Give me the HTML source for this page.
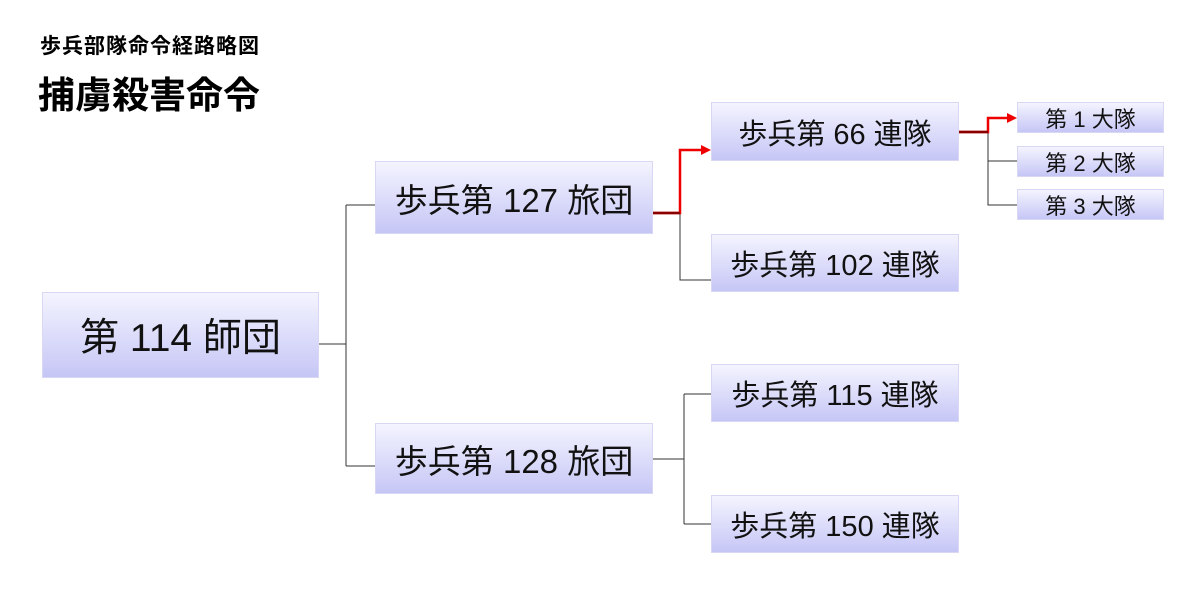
<!DOCTYPE html>
<html><head><meta charset="utf-8"><style>
body{margin:0;width:1200px;height:600px;background:#fff;position:relative;overflow:hidden;font-family:"Liberation Sans","Noto Sans CJK JP",sans-serif;}
.b{position:absolute;box-sizing:border-box;border:1px solid #d8d8f4;background:linear-gradient(#f4f4ff,#c6c6f6);display:flex;align-items:center;justify-content:center;color:#111;white-space:nowrap;}
.t{position:absolute;font-weight:bold;color:#000;white-space:nowrap;}
svg{position:absolute;left:0;top:0;}
</style></head><body>
<div class="t" style="left:40px;top:35px;font-size:21px;letter-spacing:1px;line-height:24px;">歩兵部隊命令経路略図</div>
<div class="t" style="left:38px;top:74px;font-size:37px;line-height:44px;">捕虜殺害命令</div>
<svg width="1200" height="600">
<g fill="none" stroke="#333" stroke-width="1">
<path d="M318 344H346M346 205V466M346 205H375M346 466H375"/>
<path d="M680 213V280H711"/>
<path d="M652 459H684M684 394V524M684 394H711M684 524H711"/>
<path d="M988 132V205H1017M988 161H1017"/>
</g>
<g fill="none" stroke="#e00" stroke-width="2.5">
<path d="M652 213H680V150H703"/>
<path d="M958 132H988V118H1009"/>
</g>
<path d="M652 213H680M958 132H988" stroke="#800" stroke-width="2.5"/>
<polygon points="711,150 701,145 701,155" fill="#e00"/>
<polygon points="1017,118 1007,113 1007,123" fill="#e00"/>
</svg>
<div class="b" style="left:42px;top:292px;width:277px;height:86px;font-size:39px;">第 114 師団</div>
<div class="b" style="left:375px;top:161px;width:278px;height:73px;font-size:33px;">歩兵第 127 旅団</div>
<div class="b" style="left:375px;top:423px;width:278px;height:71px;font-size:33px;">歩兵第 128 旅団</div>
<div class="b" style="left:711px;top:102px;width:248px;height:59px;font-size:29px;">歩兵第 66 連隊</div>
<div class="b" style="left:711px;top:234px;width:248px;height:58px;font-size:29px;">歩兵第 102 連隊</div>
<div class="b" style="left:711px;top:364px;width:248px;height:58px;font-size:29px;">歩兵第 115 連隊</div>
<div class="b" style="left:711px;top:495px;width:248px;height:58px;font-size:29px;">歩兵第 150 連隊</div>
<div class="b" style="left:1017px;top:102px;width:147px;height:31px;font-size:22px;">第 1 大隊</div>
<div class="b" style="left:1017px;top:146px;width:147px;height:31px;font-size:22px;">第 2 大隊</div>
<div class="b" style="left:1017px;top:189px;width:147px;height:31px;font-size:22px;">第 3 大隊</div>
</body></html>
